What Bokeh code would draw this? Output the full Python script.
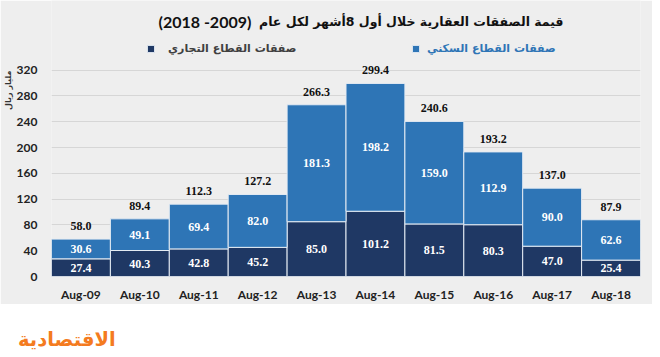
from math import pi
from bokeh.plotting import figure
from bokeh.models import (ColumnDataSource, FactorRange, Range1d, LabelSet, Label,
                          Legend, LegendItem, FixedTicker, Title, Div)
from bokeh.layouts import column
from bokeh.embed import file_html
from bokeh.resources import INLINE

# ---------------- data ----------------
categories = ["Aug-09", "Aug-10", "Aug-11", "Aug-12", "Aug-13",
              "Aug-14", "Aug-15", "Aug-16", "Aug-17", "Aug-18"]
commercial = [27.4, 40.3, 42.8, 45.2, 85.0, 101.2, 81.5, 80.3, 47.0, 25.4]
residential = [30.6, 49.1, 69.4, 82.0, 181.3, 198.2, 159.0, 112.9, 90.0, 62.6]
totals = [58.0, 89.4, 112.3, 127.2, 266.3, 299.4, 240.6, 193.2, 137.0, 87.9]
y_ticks = [0, 40, 80, 120, 160, 200, 240, 280, 320]

title_ar = "قيمة الصفقات العقارية خلال أول 8أشهر لكل عام"
# typed right-to-left as in the source; renders as "(2009- 2018)"
title_years = "(2018 -2009)"
legend_res = "صفقات القطاع السكني"
legend_com = "صفقات القطاع التجاري"
y_label = "مليار ريال"
logo_text = "الاقتصادية"

# ---------------- style ----------------
BG = "#eeeeee"
DARK = "#1f3864"
BLUE = "#2e75b6"
NUM_FONT = "Lato"
AR_FONT = "DejaVu Sans"

src = ColumnDataSource(dict(
    cat=categories,
    com=commercial,
    res=residential,
    total=totals,
    com_mid=[c / 2 for c in commercial],
    res_mid=[c + r / 2 for c, r in zip(commercial, residential)],
    top=[c + r for c, r in zip(commercial, residential)],
    com_lbl=["%.1f" % v for v in commercial],
    res_lbl=["%.1f" % v for v in residential],
    tot_lbl=["%.1f" % v for v in totals],
))

# frame spans the whole height above the x axis so title & legend live inside it
p = figure(x_range=FactorRange(*categories), y_range=Range1d(0, 428),
           width=652, height=304, output_backend="svg", toolbar_location=None,
           min_border_left=48, min_border_right=12, min_border_top=0,
           min_border_bottom=27, background_fill_color=BG,
           border_fill_color=BG, outline_line_color=None)

rs = p.vbar_stack(["com", "res"], x="cat", width=1.0, color=[DARK, BLUE],
                  line_color="#e4ebf3", line_width=1, source=src)

# axes
p.yaxis.ticker = FixedTicker(ticks=y_ticks)
p.ygrid.ticker = FixedTicker(ticks=y_ticks)
for ax in (p.xaxis[0], p.yaxis[0]):
    ax.axis_line_color = None
    ax.major_tick_line_color = None
    ax.minor_tick_line_color = None
    ax.major_label_text_font = NUM_FONT
    ax.major_label_text_font_style = "bold"
    ax.major_label_text_font_size = "12px"
    ax.major_label_text_color = "#222222"
p.yaxis.major_label_standoff = 8
p.xaxis.major_label_standoff = 4
p.xgrid.grid_line_color = None
p.ygrid.grid_line_color = "#d6d6d6"
p.ygrid.grid_line_width = 1

# value labels
for col_y, col_t in (("com_mid", "com_lbl"), ("res_mid", "res_lbl")):
    p.add_layout(LabelSet(x="cat", y=col_y, text=col_t, source=src,
                          text_align="center", text_baseline="middle",
                          text_color="white", text_font=NUM_FONT,
                          text_font_style="bold", text_font_size="12px"))
p.add_layout(LabelSet(x="cat", y="top", text="tot_lbl", source=src,
                      y_offset=13, text_align="center", text_baseline="middle",
                      text_color="#111111", text_font=NUM_FONT,
                      text_font_style="bold", text_font_size="12px"))

# legends
def make_legend(label, r, loc, color, standoff, size):
    return Legend(items=[LegendItem(label=label, renderers=[r])], location=loc,
                  orientation="horizontal", glyph_width=9, glyph_height=9,
                  label_height=18, label_standoff=standoff, padding=0, margin=0,
                  spacing=0, border_line_color=None, background_fill_alpha=0,
                  label_text_font=AR_FONT, label_text_font_style="bold",
                  label_text_font_size=size, label_text_color=color)

p.add_layout(make_legend(legend_res, rs[1], (360, 219), BLUE, 7, "11px"), "center")
p.add_layout(make_legend(legend_com, rs[0], (95, 219), "#404040", 13, "11px"), "center")

# title (Arabic part and year span as two pieces on one line)
p.add_layout(Label(x=512, y=255, x_units="screen", y_units="screen",
                   text=title_ar, text_align="right", text_baseline="middle",
                   text_font=AR_FONT, text_font_style="bold",
                   text_font_size="12.5px", text_color="#111111"))
p.add_layout(Label(x=107, y=255, x_units="screen", y_units="screen",
                   text=title_years, text_align="left",
                   text_baseline="middle", text_font=NUM_FONT,
                   text_font_style="bold", text_font_size="16px",
                   text_color="#111111"))
# y unit label (vertical, at the top end of the axis)
p.add_layout(Title(text=y_label, align="right", offset=70, standoff=2,
                   text_font=AR_FONT, text_font_style="bold",
                   text_font_size="8px", text_color="#333333"), "left")

# logo strip (plain HTML text on white)
logo = Div(text=logo_text, width=660, height=53, margin=0,
           styles={"background-color": "white", "color": "#f47b20",
                   "font-family": "DejaVu Sans", "font-weight": "bold",
                   "font-size": "19.5px", "line-height": "20px",
                   "padding-left": "18px", "padding-top": "26px",
                   "box-sizing": "border-box"})

layout = column(p, logo, spacing=0)
open("out.html", "w").write(file_html(layout, INLINE))
